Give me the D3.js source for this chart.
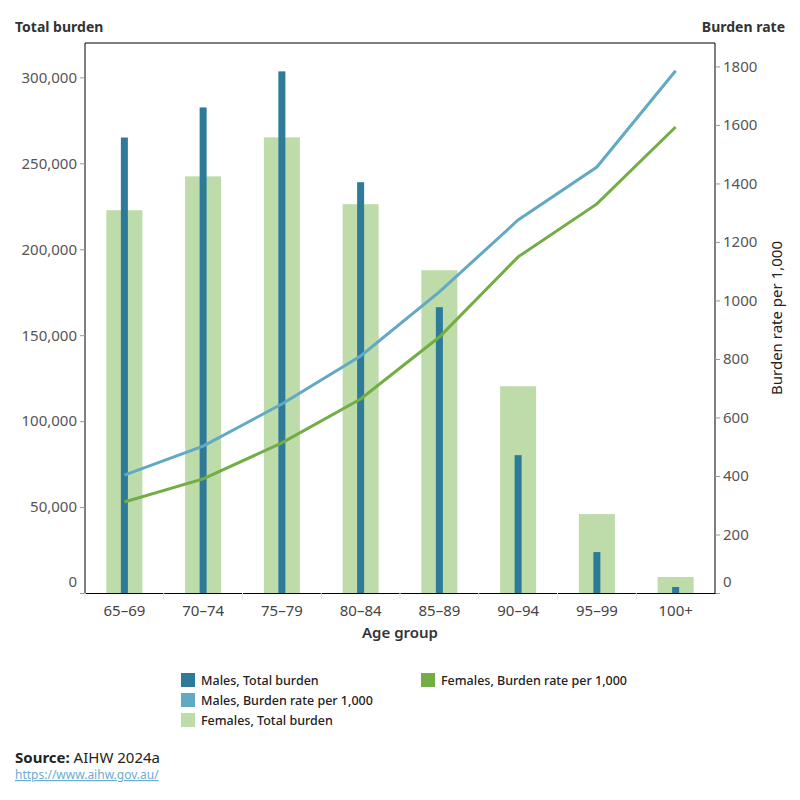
<!DOCTYPE html>
<html>
<head>
<meta charset="utf-8">
<script src="https://cdn.jsdelivr.net/npm/d3@7"></script>
<style>
body { margin: 0; background: #fff; font-family: "Noto Sans", "Open Sans", sans-serif; }
</style>
</head>
<body>
<script>
// age groups along the bottom
var ageGroups = ["65–69", "70–74", "75–79", "80–84", "85–89", "90–94", "95–99", "100+"];
// total burden (left axis)
var maleTotal = [265000, 282500, 303500, 239000, 166300, 80200, 23800, 3500];
var femaleTotal = [222700, 242400, 265100, 226200, 187800, 120300, 45900, 9300];
// burden rate per 1,000 (right axis)
var maleRate = [403, 502, 646, 810, 1029, 1275, 1456, 1785];
var femaleRate = [311, 390, 513, 663, 875, 1149, 1330, 1593];
var leftTicks = [0, 50000, 100000, 150000, 200000, 250000, 300000];
var rightTicks = [0, 200, 400, 600, 800, 1000, 1200, 1400, 1600, 1800];

var colMaleBar = "#2d7b98", colMaleLine = "#62a9c4", colFemBar = "#bedbaa", colFemLine = "#72ad46";

// plot box (note: "top" is reserved on window, so use other names)
var plotL = 85, plotR = 715, plotT = 43, plotB = 593;

var svg = d3.select("body").append("svg")
	.attr("width", 800).attr("height", 800);

var x = d3.scaleBand().domain(ageGroups).range([plotL, plotR]);
var yL = d3.scaleLinear().domain([0, 320000]).range([plotB, plotT]);
var yR = d3.scaleLinear().domain([0, 1880]).range([plotB, plotT]);

// bars: females wide, males thin on top
svg.selectAll(".fbar").data(femaleTotal).enter().append("rect")
	.attr("x", function(d, i) { return x(ageGroups[i]) + x.bandwidth()/2 - 18; })
	.attr("width", 36)
	.attr("y", function(d) { return yL(d); })
	.attr("height", function(d) { return plotB - yL(d); })
	.style("fill", colFemBar);

svg.selectAll(".mbar").data(maleTotal).enter().append("rect")
	.attr("x", function(d, i) { return x(ageGroups[i]) + x.bandwidth()/2 - 3.5; })
	.attr("width", 7)
	.attr("y", function(d) { return yL(d); })
	.attr("height", function(d) { return plotB - yL(d); })
	.style("fill", colMaleBar);

// lines
var line = d3.line()
	.x(function(d, i) { return x(ageGroups[i]) + x.bandwidth()/2; })
	.y(function(d) { return yR(d); });
svg.append("path").datum(maleRate).attr("d", line)
	.style("fill", "none").style("stroke", colMaleLine).style("stroke-width", 3);
svg.append("path").datum(femaleRate).attr("d", line)
	.style("fill", "none").style("stroke", colFemLine).style("stroke-width", 3);

// frame
svg.append("path")
	.attr("d", "M" + plotL + "," + plotB + "V" + plotT + "H" + plotR + "V" + plotB)
	.style("fill", "none").style("stroke", "#000").style("stroke-width", 1);

// left axis
var axL = svg.append("g").attr("transform", "translate(" + plotL + ",0)")
	.call(d3.axisLeft(yL).tickValues(leftTicks).tickSize(5).tickPadding(3).tickFormat(d3.format(",")));
axL.select(".domain").remove();
axL.selectAll("line").style("stroke", "#999");
axL.selectAll("text").style("font-size", "15px").style("fill", "#555")
	.style("font-family", "Noto Sans")
	.attr("dy", function(d) { return d === 0 ? "-0.45em" : "0.32em"; });

// right axis (no thousands separator here)
var axR = svg.append("g").attr("transform", "translate(" + plotR + ",0)")
	.call(d3.axisRight(yR).tickValues(rightTicks).tickSize(5).tickPadding(3).tickFormat(d3.format("d")));
axR.select(".domain").remove();
axR.selectAll("line").style("stroke", "#999");
axR.selectAll("text").style("font-size", "15px").style("fill", "#555")
	.style("font-family", "Noto Sans")
	.attr("dy", function(d) { return d === 0 ? "-0.45em" : "0.32em"; });

// bottom axis
var axB = svg.append("g").attr("transform", "translate(0," + plotB + ")")
	.call(d3.axisBottom(x).tickSize(0).tickPadding(12));
axB.select(".domain").style("stroke", "#000");
axB.selectAll("text").style("font-size", "15px").style("fill", "#444")
	.style("font-family", "Noto Sans");
// faint dividers between groups
svg.selectAll(".div").data(ageGroups).enter().append("line")
	.attr("x1", function(d) { return x(d); }).attr("x2", function(d) { return x(d); })
	.attr("y1", plotB).attr("y2", plotB + 6)
	.style("stroke", "#e4e4e4");

// titles
svg.append("text").attr("x", 15).attr("y", 32).text("Total burden")
	.style("font-size", "14px").style("font-weight", "bold").style("fill", "#333");
svg.append("text").attr("x", 785).attr("y", 32).attr("text-anchor", "end").text("Burden rate")
	.style("font-size", "14px").style("font-weight", "bold").style("fill", "#333");
svg.append("text").attr("transform", "translate(782,318) rotate(-90)")
	.attr("text-anchor", "middle").text("Burden rate per 1,000")
	.style("font-size", "15px").style("fill", "#222");
svg.append("text").attr("x", 400).attr("y", 638).attr("text-anchor", "middle").text("Age group")
	.style("font-size", "15px").style("font-weight", "600").style("fill", "#333");

// legend
var legendItems = [
	{label: "Males, Total burden", color: colMaleBar, x: 181, y: 673},
	{label: "Males, Burden rate per 1,000", color: colMaleLine, x: 181, y: 693},
	{label: "Females, Total burden", color: colFemBar, x: 181, y: 713},
	{label: "Females, Burden rate per 1,000", color: colFemLine, x: 421, y: 673}
];
var lg = svg.selectAll(".legend").data(legendItems).enter().append("g")
	.attr("transform", function(d) { return "translate(" + d.x + "," + d.y + ")"; });
lg.append("rect").attr("width", 14).attr("height", 14).style("fill", function(d) { return d.color; });
lg.append("text").attr("x", 20).attr("y", 12).text(function(d) { return d.label; })
	.style("font-size", "12.5px").style("font-weight", "500").style("fill", "#222");

// source
var src = svg.append("text").attr("x", 15).attr("y", 763).style("font-size", "15px").style("fill", "#222");
src.append("tspan").text("Source: ").style("font-weight", "bold");
src.append("tspan").text("AIHW 2024a");
svg.append("text").attr("x", 15).attr("y", 779).text("https://www.aihw.gov.au/")
	.style("font-size", "12px").style("fill", "#6aaed0").style("text-decoration", "underline");
</script>
</body>
</html>
